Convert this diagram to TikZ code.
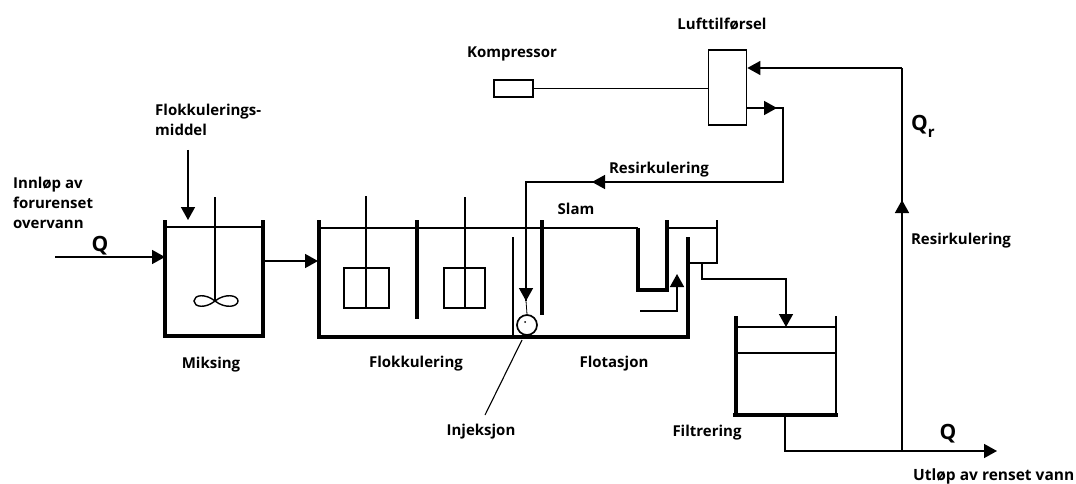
\documentclass[tikz,border=0pt]{standalone}
\usepackage{fontspec}
\setmainfont{Open Sans}
\usetikzlibrary{arrows.meta}
\tikzset{
  thick wall/.style={line width=3.6pt,line cap=butt,line join=miter},
  mid wall/.style={line width=2.4pt,line join=miter},
  thin pipe/.style={line width=1.5pt,line join=miter},
  flow/.style={thin pipe,-{Triangle[length=13pt,width=14pt]}},
  lab/.style={font=\fontsize{15}{20}\selectfont\bfseries,inner sep=0pt,text=black},
  labl/.style={lab,align=left,anchor=west},
  big/.style={font=\fontsize{21}{21}\selectfont\bfseries,inner sep=0pt},
  pad/.style={draw,line width=1.7pt,minimum width=0pt,inner sep=0pt},
}
\begin{document}
\begin{tikzpicture}[x=1pt,y=-1pt]
\useasboundingbox (0,0) rectangle (1076,484);
% named coordinates
\coordinate (inS) at (55,257); \coordinate (inE) at (165,257);
\coordinate (fmS) at (188,150); \coordinate (fmE) at (188,220);
\coordinate (mfS) at (264,261); \coordinate (mfE) at (318,261);
\coordinate (outT) at (785,415); \coordinate (outC) at (785,451);
\coordinate (jct) at (902,451); \coordinate (outE) at (997,451);
\coordinate (recC) at (902,68);
\coordinate (recMid) at (902,200);
% Mixing tank
\draw[thick wall] (165,220) -- (165,336) -- (263,336) -- (263,220);
\draw[thin pipe] (166,227) -- (262,227);
\draw[thin pipe] (215,197) -- (215,300);
\draw[line width=1.4pt] (215,301) .. controls (205,293) and (194,295) .. (194,301) .. controls (194,307) and (205,309) .. (215,301) .. controls (225,293) and (238,295) .. (238,301) .. controls (238,307) and (225,309) .. (215,301);
% Flocculation + flotation basin
\draw[thick wall] (319,220) -- (319,337) -- (688,337) -- (688,237);
\draw[thin pipe] (320,228) -- (542,228);
\draw[mid wall] (542,228) -- (638,228);
\draw[thick wall] (417,220) -- (417,319);
\draw[mid wall] (513,237) -- (513,337);
\draw[thick wall] (542,220) -- (542,315);
\draw[thick wall] (638,228) -- (638,290) -- (667,290) -- (667,220);
\draw[mid wall] (667,228) -- (717,228);
\draw[mid wall] (717,220) -- (717,263) -- (688,263);
% flocculators
\node[pad,minimum height=40pt,minimum width=45pt] (fl1) at (366.5,288) {};
\node[pad,minimum height=40pt,minimum width=41pt] (fl2) at (464.5,288) {};
\draw[thin pipe] (366,196) -- (fl1.south-|366,0);
\draw[thin pipe] (465,197) -- (fl2.south-|465,0);
% inlet arrows
\draw[flow] (inS) -- (inE);
\draw[flow] (fmS) -- (fmE);
\draw[flow] (mfS) -- (mfE);
% Flotation inner arrow
\coordinate (fiS) at (640,311); \coordinate (fiE) at (677,274);
\draw[flow] (fiS) -| (fiE);
% outlet to filter
\coordinate (foS) at (702,263); \coordinate (foE) at (786,327);
\draw[flow] (foS) -- (702,279) -| (foE);
% Filter tank
\draw[thick wall] (736,316) -- (736,415);
\draw[thick wall] (733,415) -- (838,415);
\draw[mid wall] (836,316) -- (836,415);
\draw[thin pipe] (737,327) -- (835,327);
\draw[thin pipe] (737,353) -- (835,353);
% Effluent
\draw[thin pipe] (outT) -- (outC) -- (jct);
\draw[flow] (jct) -- (outE);
% Air unit
\node[pad,minimum width=38pt,minimum height=75pt] (air) at (727.5,87.5) {};
\node[pad,minimum width=39pt,minimum height=17pt] (komp) at (513.5,88.5) {};
\draw[thin pipe] (komp.east) -- (air.west|-komp.east);
% Recycle
\draw[thin pipe] (jct) -- (recC);
\draw[flow] (jct) -- (recMid);
\draw[flow] (recC) -- (air.east|-recC);
\coordinate (a1) at (air.east|-0,108); \coordinate (a2) at (783,108);
\coordinate (a2t) at (777,108);
\coordinate (a3) at (783,182); \coordinate (a4) at (526,182);
\coordinate (a5) at (526,301); \coordinate (rm) at (592,182);
\draw[thin pipe] (a1) -- (a2) -- (a3) -- (a4) -- (a5);
\draw[flow] (a1) -- (a2t);
\draw[flow] (a3) -- (rm);
\draw[flow] (a4) -- (a5);
% Injector
\node[draw,circle,line width=1.7pt,minimum size=20pt,inner sep=0pt] (inj) at (527,325) {};
\fill (525,322) circle (1pt);
\draw[line width=0.8pt] (a5) -- (inj.north);
\coordinate (injL) at (485,415);
\draw[line width=1.1pt] (522,340) -- (injL);
% Text
\node[labl] (t1) at (155,120) {Flokkulerings-\\middel};
\node[labl] (t2) at (13,203) {Innløp av\\forurenset\\overvann};
\node[big] (q1) at (100,246) {Q};
\node[lab] (t3) at (211,365) {Miksing};
\node[lab] (t4) at (416,364) {Flokkulering};
\node[lab] (t5) at (614,364) {Flotasjon};
\node[lab] (t6) at (576,209) {Slam};
\node[lab] (t7) at (659,170) {Resirkulering};
\node[lab] (t8) at (512,54) {Kompressor};
\node[lab] (t9) at (722,24) {Lufttilførsel};
\node[lab] (t10) at (961,241) {Resirkulering};
\node[lab] (t11) at (481,432) {Injeksjon};
\node[lab] (t12) at (707,433) {Filtrering};
\node[lab,anchor=west,font=\fontsize{15.5}{20}\selectfont\bfseries] (t13) at (913,476) {Utløp av renset vann};
\node[big] (q2) at (948,434) {Q};
\node[big,anchor=west] (q3) at (911,126) {Q\raisebox{-7pt}{\fontsize{15}{15}\selectfont r}};
\end{tikzpicture}
\end{document}
